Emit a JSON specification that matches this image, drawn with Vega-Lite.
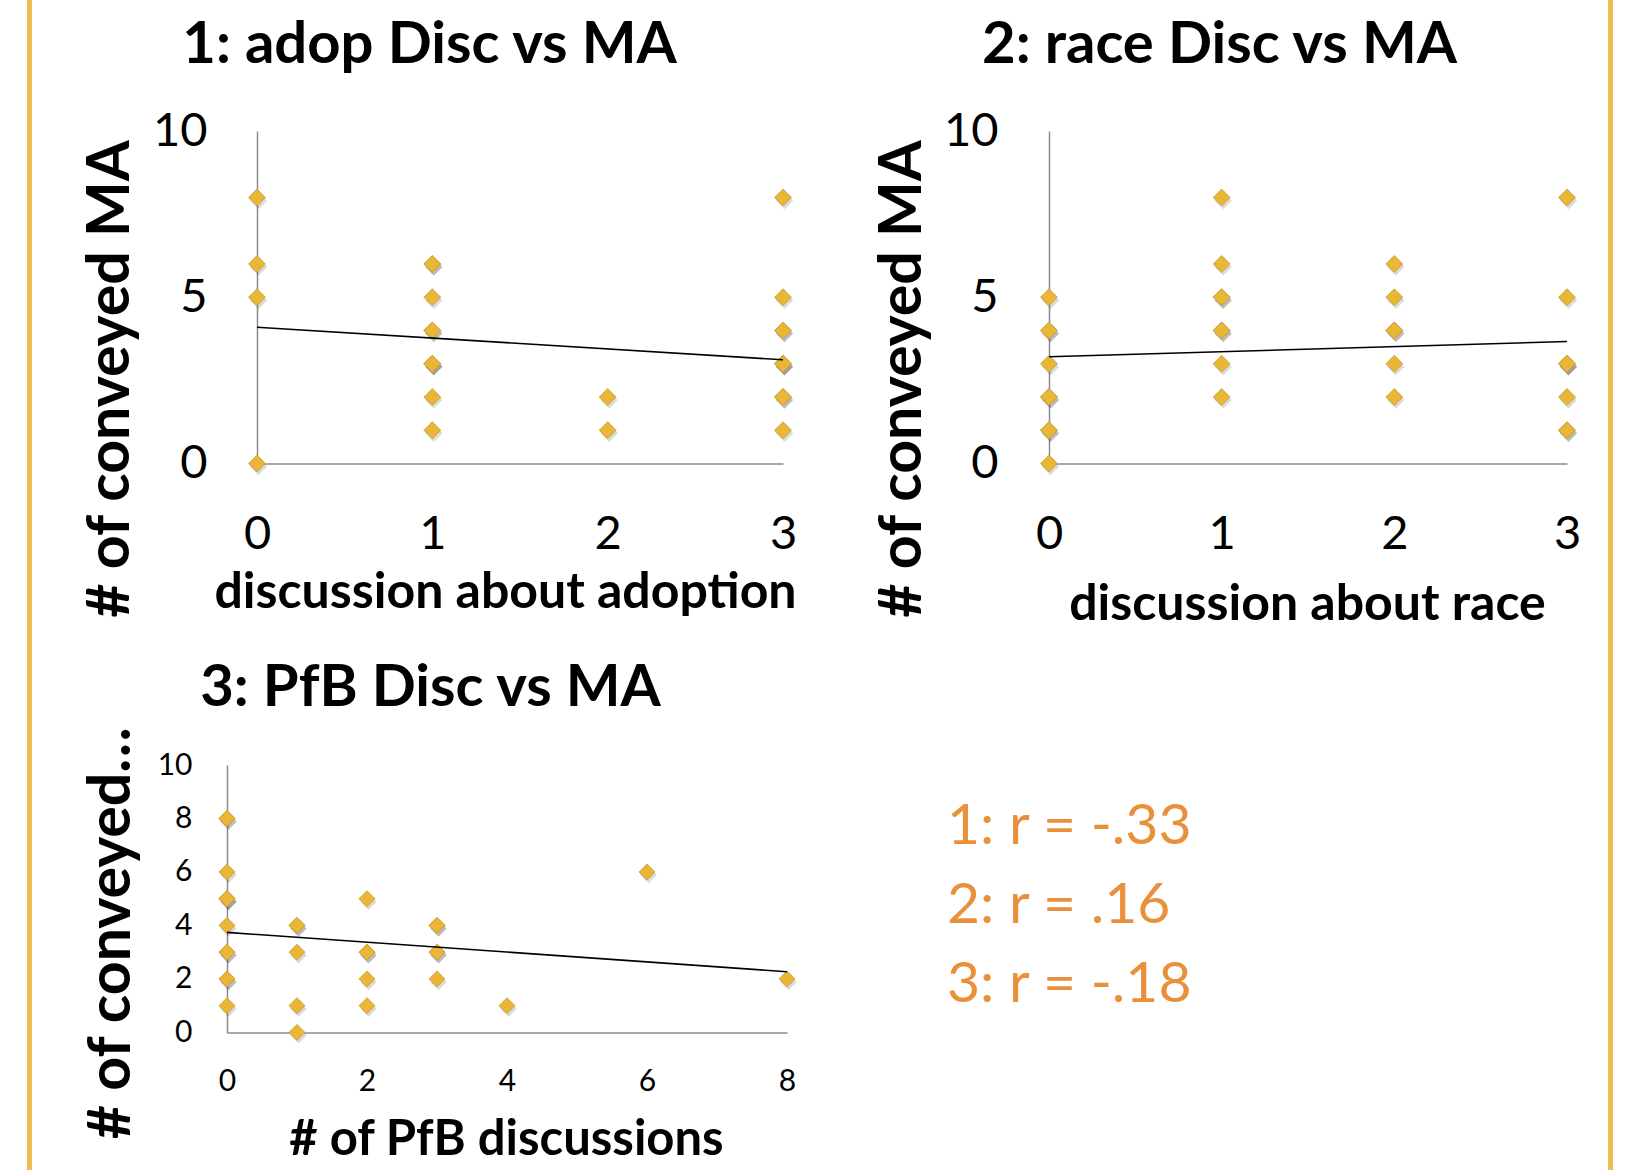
{
  "$schema": "https://vega.github.io/schema/vega-lite/v6.json",
  "padding": {"left": 27, "top": 0, "right": 0, "bottom": 0},
  "background": "#ffffff",
  "bounds": "flush",
  "spacing": 0,
  "datasets": {
    "adop": [
      {"disc": 0, "ma": 8}, {"disc": 0, "ma": 6}, {"disc": 0, "ma": 5}, {"disc": 0, "ma": 0},
      {"disc": 1, "ma": 6}, {"disc": 1, "ma": 6}, {"disc": 1, "ma": 5}, {"disc": 1, "ma": 4}, {"disc": 1, "ma": 4},
      {"disc": 1, "ma": 3}, {"disc": 1, "ma": 3}, {"disc": 1, "ma": 3}, {"disc": 1, "ma": 2}, {"disc": 1, "ma": 1},
      {"disc": 2, "ma": 2}, {"disc": 2, "ma": 1},
      {"disc": 3, "ma": 8}, {"disc": 3, "ma": 5}, {"disc": 3, "ma": 4}, {"disc": 3, "ma": 4}, {"disc": 3, "ma": 3},
      {"disc": 3, "ma": 3}, {"disc": 3, "ma": 3}, {"disc": 3, "ma": 2}, {"disc": 3, "ma": 2}, {"disc": 3, "ma": 1}
    ],
    "adopTrend": [{"disc": 0, "ma": 4.1}, {"disc": 3, "ma": 3.12}],
    "race": [
      {"disc": 0, "ma": 5}, {"disc": 0, "ma": 4}, {"disc": 0, "ma": 4}, {"disc": 0, "ma": 3}, {"disc": 0, "ma": 2},
      {"disc": 0, "ma": 2}, {"disc": 0, "ma": 1}, {"disc": 0, "ma": 1}, {"disc": 0, "ma": 0},
      {"disc": 1, "ma": 8}, {"disc": 1, "ma": 6}, {"disc": 1, "ma": 5}, {"disc": 1, "ma": 5}, {"disc": 1, "ma": 4},
      {"disc": 1, "ma": 4}, {"disc": 1, "ma": 3}, {"disc": 1, "ma": 2},
      {"disc": 2, "ma": 6}, {"disc": 2, "ma": 5}, {"disc": 2, "ma": 4}, {"disc": 2, "ma": 4}, {"disc": 2, "ma": 3}, {"disc": 2, "ma": 2},
      {"disc": 3, "ma": 8}, {"disc": 3, "ma": 5}, {"disc": 3, "ma": 3}, {"disc": 3, "ma": 3}, {"disc": 3, "ma": 3},
      {"disc": 3, "ma": 2}, {"disc": 3, "ma": 1}, {"disc": 3, "ma": 1}
    ],
    "raceTrend": [{"disc": 0, "ma": 3.21}, {"disc": 3, "ma": 3.67}],
    "pfb": [
      {"disc": 0, "ma": 8}, {"disc": 0, "ma": 8}, {"disc": 0, "ma": 6}, {"disc": 0, "ma": 5}, {"disc": 0, "ma": 5},
      {"disc": 0, "ma": 5}, {"disc": 0, "ma": 4}, {"disc": 0, "ma": 3}, {"disc": 0, "ma": 3}, {"disc": 0, "ma": 2},
      {"disc": 0, "ma": 2}, {"disc": 0, "ma": 1},
      {"disc": 1, "ma": 4}, {"disc": 1, "ma": 4}, {"disc": 1, "ma": 3}, {"disc": 1, "ma": 1}, {"disc": 1, "ma": 0},
      {"disc": 2, "ma": 5}, {"disc": 2, "ma": 3}, {"disc": 2, "ma": 3}, {"disc": 2, "ma": 2}, {"disc": 2, "ma": 1},
      {"disc": 3, "ma": 4}, {"disc": 3, "ma": 4}, {"disc": 3, "ma": 3}, {"disc": 3, "ma": 3}, {"disc": 3, "ma": 2},
      {"disc": 4, "ma": 1}, {"disc": 6, "ma": 6}, {"disc": 8, "ma": 2}
    ],
    "pfbTrend": [{"disc": 0, "ma": 3.74}, {"disc": 8, "ma": 2.27}],
    "rstats": [
      {"label": "1: r = -.33"},
      {"label": "2: r = .16"},
      {"label": "3: r = -.18"}
    ]
  },
  "hconcat": [
    {"width": 5, "height": 1170, "view": {"fill": "#EABF4F", "stroke": null}, "data": {"values": []}, "mark": "point", "encoding": {}},
    {
      "spacing": 0,
      "bounds": "flush",
      "vconcat": [
        {"width": 1, "height": 130.5, "data": {"values": []}, "mark": "point", "encoding": {}},
        {
          "spacing": 0,
          "bounds": "flush",
          "hconcat": [
            {"width": 225, "height": 1, "data": {"values": []}, "mark": "point", "encoding": {}},
            {
              "width": 526, "height": 332.5,
              "resolve": {"axis": {"x": "independent"}},
              "encoding": {
                "x": {"field": "disc", "type": "quantitative", "scale": {"domain": [0, 3], "nice": false, "zero": false},
                  "axis": {"values": [0, 1, 2, 3], "labelFontSize": 47, "labelPadding": 85, "labelBaseline": "alphabetic",
                    "title": "discussion about adoption", "titleFontSize": 50, "titleX": 248, "titleY": 144, "titleAlign": "center", "titleBaseline": "alphabetic"}},
                "y": {"field": "ma", "type": "quantitative", "scale": {"domain": [0, 10], "nice": false},
                  "axis": {"values": [0, 5, 10], "labelFontSize": 47, "labelPadding": 50,
                    "title": "# of conveyed MA", "titleFontSize": 59, "titleAngle": 270, "titleX": -128.7, "titleY": 247.5, "titleAlign": "center", "titleBaseline": "alphabetic"}}
              },
              "layer": [
                {"data": {"name": "adop"},
                 "mark": {"type": "point", "shape": "diamond", "filled": true, "size": 300, "fill": "#000000", "opacity": 0.14, "strokeWidth": 0, "xOffset": 1.5, "yOffset": 3},
                 "encoding": {"x": {"field": "disc", "type": "quantitative", "axis": null}}},
                {"data": {"name": "adop"},
                 "mark": {"type": "point", "shape": "diamond", "filled": true, "size": 285, "fill": "#E9B735", "stroke": "#C49A3C", "strokeWidth": 0.8, "opacity": 1}},
                {"data": {"name": "adopTrend"},
                 "mark": {"type": "line", "color": "#000000", "strokeWidth": 1.6},
                 "encoding": {"x": {"field": "disc", "type": "quantitative",
                   "axis": {"orient": "top", "domain": false, "labels": false, "ticks": false,
                     "title": "1: adop Disc vs MA", "titleFontSize": 58, "titleX": 172, "titleY": -68.3, "titleAlign": "center", "titleBaseline": "alphabetic", "titleAngle": 0}}}}
              ]
            },
            {"width": 265.3, "height": 1, "data": {"values": []}, "mark": "point", "encoding": {}},
            {
              "width": 518, "height": 332.5,
              "resolve": {"axis": {"x": "independent"}},
              "encoding": {
                "x": {"field": "disc", "type": "quantitative", "scale": {"domain": [0, 3], "nice": false, "zero": false},
                  "axis": {"values": [0, 1, 2, 3], "labelFontSize": 47, "labelPadding": 85, "labelBaseline": "alphabetic",
                    "title": "discussion about race", "titleFontSize": 50, "titleX": 258, "titleY": 156, "titleAlign": "center", "titleBaseline": "alphabetic"}},
                "y": {"field": "ma", "type": "quantitative", "scale": {"domain": [0, 10], "nice": false},
                  "axis": {"values": [0, 5, 10], "labelFontSize": 47, "labelPadding": 51,
                    "title": "# of conveyed MA", "titleFontSize": 59, "titleAngle": 270, "titleX": -128.9, "titleY": 247.5, "titleAlign": "center", "titleBaseline": "alphabetic"}}
              },
              "layer": [
                {"data": {"name": "race"},
                 "mark": {"type": "point", "shape": "diamond", "filled": true, "size": 300, "fill": "#000000", "opacity": 0.14, "strokeWidth": 0, "xOffset": 1.5, "yOffset": 3},
                 "encoding": {"x": {"field": "disc", "type": "quantitative", "axis": null}}},
                {"data": {"name": "race"},
                 "mark": {"type": "point", "shape": "diamond", "filled": true, "size": 285, "fill": "#E9B735", "stroke": "#C49A3C", "strokeWidth": 0.8, "opacity": 1}},
                {"data": {"name": "raceTrend"},
                 "mark": {"type": "line", "color": "#000000", "strokeWidth": 1.6},
                 "encoding": {"x": {"field": "disc", "type": "quantitative",
                   "axis": {"orient": "top", "domain": false, "labels": false, "ticks": false,
                     "title": "2: race Disc vs MA", "titleFontSize": 58, "titleX": 170, "titleY": -68.3, "titleAlign": "center", "titleBaseline": "alphabetic", "titleAngle": 0}}}}
              ]
            }
          ]
        },
        {"width": 1, "height": 633.8, "data": {"values": []}, "mark": "point", "encoding": {}},
        {
          "spacing": 0,
          "bounds": "flush",
          "hconcat": [
            {"width": 194.7, "height": 1, "data": {"values": []}, "mark": "point", "encoding": {}},
            {
              "width": 560, "height": 267.4,
              "resolve": {"axis": {"x": "independent"}},
              "encoding": {
                "x": {"field": "disc", "type": "quantitative", "scale": {"domain": [0, 8], "nice": false, "zero": false},
                  "axis": {"values": [0, 2, 4, 6, 8], "labelFontSize": 30, "labelPadding": 58, "labelBaseline": "alphabetic",
                    "title": "# of PfB discussions", "titleFontSize": 49, "titleX": 279, "titleY": 122.3, "titleAlign": "center", "titleBaseline": "alphabetic"}},
                "y": {"field": "ma", "type": "quantitative", "scale": {"domain": [0, 10], "nice": false},
                  "axis": {"values": [0, 2, 4, 6, 8, 10], "labelFontSize": 30, "labelPadding": 35,
                    "title": "# of conveyed…", "titleFontSize": 59, "titleAngle": 270, "titleX": -97.9, "titleY": 167.7, "titleAlign": "center", "titleBaseline": "alphabetic"}}
              },
              "layer": [
                {"data": {"name": "pfb"},
                 "mark": {"type": "point", "shape": "diamond", "filled": true, "size": 270, "fill": "#000000", "opacity": 0.14, "strokeWidth": 0, "xOffset": 1.5, "yOffset": 3},
                 "encoding": {"x": {"field": "disc", "type": "quantitative", "axis": null}}},
                {"data": {"name": "pfb"},
                 "mark": {"type": "point", "shape": "diamond", "filled": true, "size": 255, "fill": "#E9B735", "stroke": "#C49A3C", "strokeWidth": 0.8, "opacity": 1}},
                {"data": {"name": "pfbTrend"},
                 "mark": {"type": "line", "color": "#000000", "strokeWidth": 1.6},
                 "encoding": {"x": {"field": "disc", "type": "quantitative",
                   "axis": {"orient": "top", "domain": false, "labels": false, "ticks": false,
                     "title": "3: PfB Disc vs MA", "titleFontSize": 58, "titleX": 203, "titleY": -59.6, "titleAlign": "center", "titleBaseline": "alphabetic", "titleAngle": 0}}}}
              ]
            },
            {"width": 160, "height": 1, "data": {"values": []}, "mark": "point", "encoding": {}},
            {
              "width": 300, "height": 315.4,
              "data": {"name": "rstats"},
              "mark": {"type": "text", "align": "left", "baseline": "alphabetic", "fontSize": 57, "font": "Lato", "color": "#E8913A"},
              "encoding": {
                "text": {"field": "label"},
                "x": {"datum": 0, "type": "quantitative", "scale": {"domain": [0, 1]}, "axis": null},
                "y": {"field": "label", "type": "nominal", "scale": {"type": "point", "padding": 1.067}, "axis": null}
              }
            }
          ]
        }
      ]
    },
    {"width": 1575.3, "height": 1, "data": {"values": []}, "mark": "point", "encoding": {}},
    {"width": 5, "height": 1170, "view": {"fill": "#EABF4F", "stroke": null}, "data": {"values": []}, "mark": "point", "encoding": {}}
  ],
  "config": {
    "view": {"stroke": null},
    "font": "Lato",
    "axis": {
      "grid": false, "ticks": false, "tickSize": 0, "labelFlush": false, "labelOverlap": false,
      "domainColor": "#8c8c8c", "domainWidth": 1.5,
      "labelColor": "#000000", "titleColor": "#000000",
      "labelFont": "Lato", "titleFont": "Lato", "titleFontWeight": "bold"
    }
  }
}
